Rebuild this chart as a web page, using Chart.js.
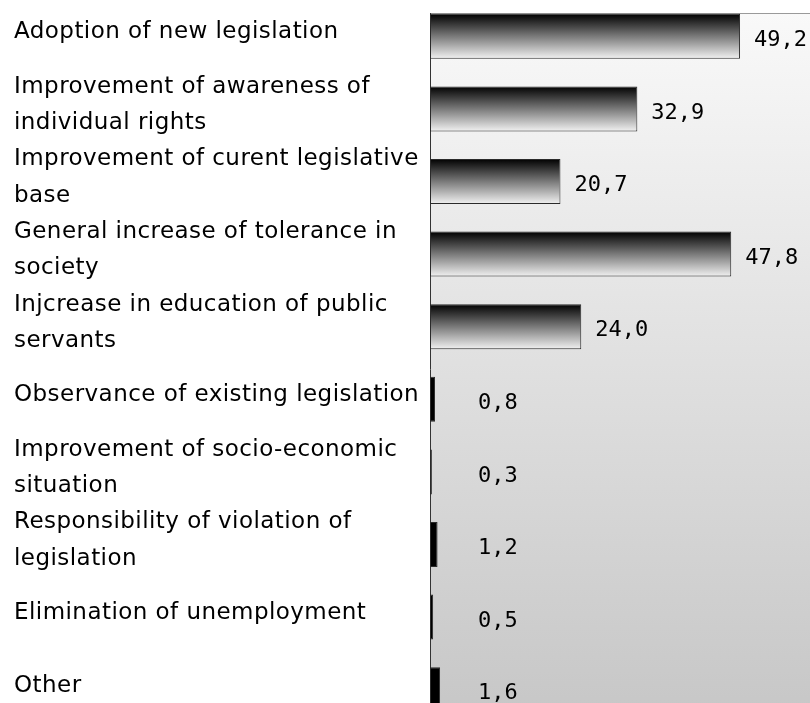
<!DOCTYPE html>
<html>
<head>
<meta charset="utf-8">
<script src="https://cdn.jsdelivr.net/npm/chart.js@4/dist/chart.umd.min.js"></script>
<style>
  html, body { margin: 0; padding: 0; background: #ffffff; overflow: hidden; }
  #wrap { width: 810px; height: 703px; overflow: hidden; }
  canvas { display: block; }
</style>
</head>
<body>
<div id="wrap"><canvas id="chart" width="810" height="726"></canvas></div>
<script>
// Reasons named by respondents (share of answers, %)
const categories = [
  'Adoption of new legislation',
  ['Improvement of awareness of', 'individual rights'],
  ['Improvement of curent legislative', 'base'],
  ['General increase of tolerance in', 'society'],
  ['Injcrease in education of public', 'servants'],
  'Observance of existing legislation',
  ['Improvement of socio-economic', 'situation'],
  ['Responsibility of violation of', 'legislation'],
  'Elimination of unemployment',
  'Other'
];
const shares = [49.2, 32.9, 20.7, 47.8, 24.0, 0.8, 0.3, 1.2, 0.5, 1.6];
const shareLabels = ['49,2', '32,9', '20,7', '47,8', '24,0', '0,8', '0,3', '1,2', '0,5', '1,6'];

const BAR_PCT = 0.62;
const FRAME_TOP = 13;

// Vertical black-to-white fill for each bar; very thin bars stay solid black
function barFill(ctx) {
  const chart = ctx.chart;
  const ys = chart.scales.y, xs = chart.scales.x;
  if (!ys || !xs || !chart.chartArea) return '#000';
  const v = ctx.raw;
  const w = xs.getPixelForValue(v) - xs.getPixelForValue(0);
  if (w < 14) return '#000';
  const step = (ys.bottom - ys.top) / categories.length;
  const t = step * BAR_PCT;
  const c = ys.getPixelForValue(ctx.dataIndex);
  const g = chart.ctx.createLinearGradient(0, c - t / 2, 0, c + t / 2);
  g.addColorStop(0, '#000000');
  g.addColorStop(0.5, '#7a7a7a');
  g.addColorStop(1, '#f2f2f2');
  return g;
}

// Shaded plot background with a thin top frame line and the left axis line
const plotBackground = {
  id: 'plotBackground',
  beforeDraw(chart) {
    const { ctx, chartArea: a } = chart;
    const g = ctx.createLinearGradient(0, FRAME_TOP, 0, a.bottom);
    g.addColorStop(0, '#f9f9f9');
    g.addColorStop(1, '#c6c6c6');
    ctx.save();
    ctx.fillStyle = g;
    ctx.fillRect(a.left, FRAME_TOP, a.right - a.left, a.bottom - FRAME_TOP);
    ctx.strokeStyle = '#9a9a9a';
    ctx.lineWidth = 1;
    ctx.beginPath();
    ctx.moveTo(a.left, FRAME_TOP + 0.5);
    ctx.lineTo(a.right, FRAME_TOP + 0.5);
    ctx.stroke();
    ctx.strokeStyle = '#333333';
    ctx.beginPath();
    ctx.moveTo(a.left + 0.5, FRAME_TOP);
    ctx.lineTo(a.left + 0.5, a.bottom);
    ctx.stroke();
    ctx.restore();
    // slightly open tracking for the category names
    ctx.letterSpacing = '0.45px';
  },
  afterDraw(chart) {
    chart.ctx.letterSpacing = '0px';
  }
};

// Value text to the right of each bar
const valueLabels = {
  id: 'valueLabels',
  afterDatasetsDraw(chart) {
    const { ctx } = chart;
    const meta = chart.getDatasetMeta(0);
    ctx.save();
    ctx.letterSpacing = '0px';
    ctx.font = '22px "DejaVu Sans Mono", monospace';
    ctx.fillStyle = '#000';
    ctx.textAlign = 'left';
    ctx.textBaseline = 'middle';
    meta.data.forEach((el, i) => {
      const x = Math.max(el.x + 14, 478);
      ctx.fillText(shareLabels[i], x, el.y + 4);
    });
    ctx.restore();
  }
};

new Chart(document.getElementById('chart'), {
  type: 'bar',
  data: {
    labels: categories,
    datasets: [{
      data: shares,
      backgroundColor: barFill,
      borderColor: '#2a2a2a',
      borderWidth: 1,
      borderSkipped: false,
      categoryPercentage: 1,
      barPercentage: BAR_PCT
    }]
  },
  options: {
    indexAxis: 'y',
    responsive: false,
    animation: false,
    layout: { padding: { left: 14, right: 0, top: 0, bottom: 0 } },
    plugins: {
      legend: { display: false },
      tooltip: { enabled: false }
    },
    scales: {
      x: {
        display: false,
        min: 0,
        max: 60.3
      },
      y: {
        grid: { display: false, drawTicks: false },
        border: { display: false },
        afterFit(scale) {
          scale.width = 416;
          scale.paddingTop = 0;
          scale.paddingBottom = 0;
        },
        ticks: {
          autoSkip: false,
          crossAlign: 'far',
          labelOffset: -4,
          color: '#000',
          padding: 0,
          font: { family: '"DejaVu Sans", sans-serif', size: 23, lineHeight: 1.57 }
        }
      }
    }
  },
  plugins: [plotBackground, valueLabels]
});
</script>
</body>
</html>
